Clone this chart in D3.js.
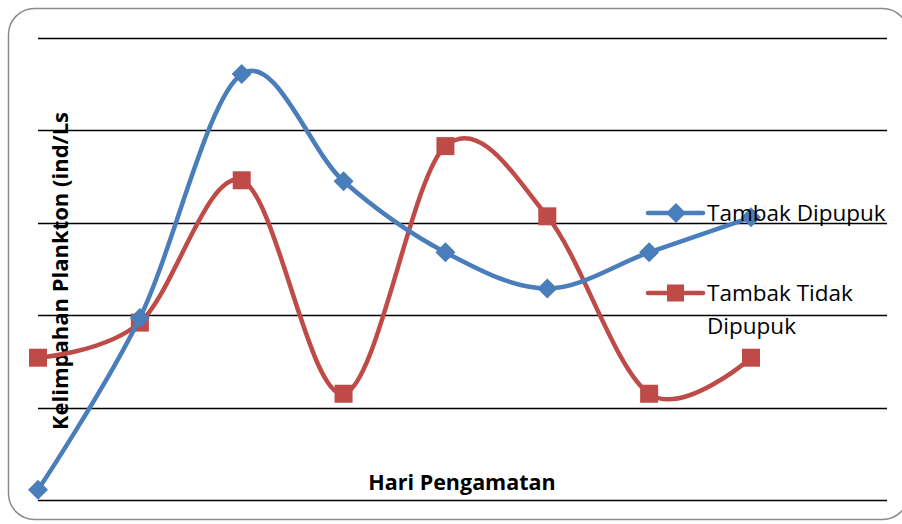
<!DOCTYPE html>
<html>
<head>
<meta charset="utf-8">
<script src="https://cdn.jsdelivr.net/npm/d3@7"></script>
<style>
  html, body { margin: 0; padding: 0; background: #fff; }
  svg { display: block; }
</style>
</head>
<body>
<svg id="chart" width="902" height="524"></svg>
<script>
// Observation days (categories) and plankton abundance per pond type
const days = ["1", "2", "3", "4", "5", "6", "7", "8"];
const dipupuk = [0.11, 1.97, 4.61, 3.45, 2.68, 2.29, 2.68, 3.06];
const tidakDipupuk = [1.54, 1.92, 3.46, 1.15, 3.83, 3.07, 1.15, 1.54];
const gridValues = [0, 1, 2, 3, 4, 5];
const seriesNames = ["Tambak Dipupuk", "Tambak Tidak Dipupuk"];

const svg = d3.select("#chart");

// outer rounded frame
svg.append("rect")
  .attr("x", 8.5).attr("y", 8.5)
  .attr("width", 900).attr("height", 511)
  .attr("rx", 26).attr("ry", 26)
  .attr("fill", "#fff")
  .attr("stroke", "#8c8c8c").attr("stroke-width", 1.5);

const plotLeft = 38, plotRight = 887, plotTop = 38, plotBottom = 500;

const x = d3.scalePoint().domain(days).range([38, 751]);
const y = d3.scaleLinear().domain([0, 5]).range([plotBottom, plotTop]);

// horizontal gridlines
svg.append("g").selectAll("line")
  .data(gridValues)
  .join("line")
  .attr("x1", plotLeft).attr("x2", plotRight)
  .attr("y1", d => Math.round(y(d)) + 0.5)
  .attr("y2", d => Math.round(y(d)) + 0.5)
  .attr("stroke", "#000").attr("stroke-width", 1.6);

const font = "'Open Sans', 'DejaVu Sans', sans-serif";

// axis titles
svg.append("text")
  .attr("x", 462).attr("y", 490)
  .attr("text-anchor", "middle")
  .attr("font-family", font).attr("font-weight", "bold")
  .attr("font-size", 21.5)
  .attr("fill", "#000")
  .text("Hari Pengamatan");

svg.append("text")
  .attr("transform", "translate(68,271) rotate(-90)")
  .attr("text-anchor", "middle")
  .attr("font-family", font).attr("font-weight", "bold")
  .attr("font-size", 22)
  .attr("fill", "#000")
  .text("Kelimpahan Plankton (ind/Ls");

const blue = "#4a7ebb", red = "#be4b48";

const line = d3.line()
  .x((d, i) => x(days[i]))
  .y(d => y(d))
  .curve(d3.curveCatmullRom.alpha(0));

const diamond = (cx, cy, r) =>
  `M${cx},${cy - r}L${cx + r},${cy}L${cx},${cy + r}L${cx - r},${cy}Z`;

// red series (drawn first, blue line sits over it)
svg.append("path")
  .attr("d", line(tidakDipupuk))
  .attr("fill", "none").attr("stroke", red).attr("stroke-width", 4.5);
svg.append("g").selectAll("rect")
  .data(tidakDipupuk)
  .join("rect")
  .attr("x", (d, i) => x(days[i]) - 9)
  .attr("y", d => y(d) - 9)
  .attr("width", 18).attr("height", 18)
  .attr("fill", red);

svg.append("path")
  .attr("d", line(dipupuk))
  .attr("fill", "none").attr("stroke", blue).attr("stroke-width", 4.5);
svg.append("g").selectAll("path")
  .data(dipupuk)
  .join("path")
  .attr("d", (d, i) => diamond(x(days[i]), y(d), 10))
  .attr("fill", blue);

// legend
const legend = svg.append("g");
const legendItems = [
  { name: seriesNames[0], color: blue, y: 213, lines: ["Tambak Dipupuk"] },
  { name: seriesNames[1], color: red, y: 293, lines: ["Tambak Tidak", "Dipupuk"] }
];
legendItems.forEach((it, k) => {
  legend.append("line")
    .attr("x1", 648).attr("x2", 703)
    .attr("y1", it.y).attr("y2", it.y)
    .attr("stroke", it.color).attr("stroke-width", 4.5)
    .attr("stroke-linecap", "round");
  if (k === 0) {
    legend.append("path").attr("d", diamond(676, it.y, 10)).attr("fill", it.color);
  } else {
    legend.append("rect").attr("x", 667).attr("y", it.y - 8.5)
      .attr("width", 17).attr("height", 17).attr("fill", it.color);
  }
  const t = legend.append("text")
    .attr("x", 707).attr("y", it.y + 8)
    .attr("font-family", font).attr("font-size", 22.5).attr("fill", "#000");
  it.lines.forEach((s, j) => {
    t.append("tspan").attr("x", 707).attr("dy", j === 0 ? 0 : 33).text(s);
  });
});
</script>
</body>
</html>
